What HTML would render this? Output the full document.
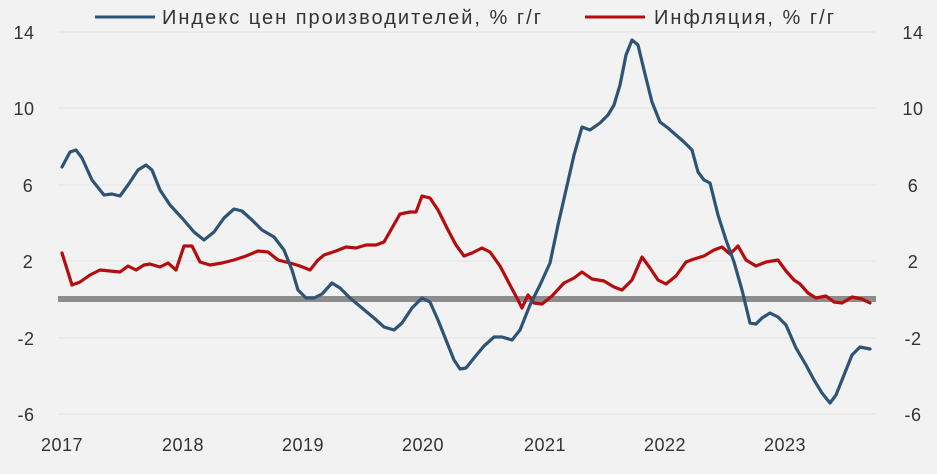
<!DOCTYPE html>
<html><head><meta charset="utf-8"><style>
body{margin:0;background:#f2f2f2;}
svg{display:block;font-family:"Liberation Sans",sans-serif;}
</style></head><body>
<svg width="937" height="474" viewBox="0 0 937 474">
<rect width="937" height="474" fill="#f2f2f2"/>
<g stroke="#e2e2e2" stroke-width="1">
<line x1="58" x2="876" y1="32" y2="32"/><line x1="58" x2="876" y1="108" y2="108"/>
<line x1="58" x2="876" y1="185" y2="185"/><line x1="58" x2="876" y1="261" y2="261"/>
<line x1="58" x2="876" y1="338" y2="338"/><line x1="58" x2="876" y1="414" y2="414"/>
</g>
<line x1="58" x2="876" y1="299" y2="299" stroke="#8c8c8c" stroke-width="6"/>
<g font-size="18" fill="#333" text-anchor="middle" letter-spacing="0.5">
<text x="24" y="39">14</text><text x="24" y="115">10</text><text x="28" y="192">6</text><text x="28" y="268">2</text><text x="26" y="345">-2</text><text x="26" y="421">-6</text>
<text x="913" y="39">14</text><text x="913" y="115">10</text><text x="913" y="192">6</text><text x="913" y="268">2</text><text x="913" y="345">-2</text><text x="913" y="421">-6</text>
<text x="62" y="451">2017</text><text x="183" y="451">2018</text><text x="303" y="451">2019</text><text x="423" y="451">2020</text><text x="545" y="451">2021</text><text x="665" y="451">2022</text><text x="785" y="451">2023</text>
</g>
<g font-size="20" fill="#333" letter-spacing="2">
<line x1="95" x2="155" y1="17" y2="17" stroke="#2e5475" stroke-width="3"/>
<text x="162" y="24">Индекс цен производителей, % г/г</text>
<line x1="585" x2="645" y1="17" y2="17" stroke="#b50d0d" stroke-width="3"/>
<text x="654" y="24">Инфляция, % г/г</text>
</g>
<polyline fill="none" stroke="#b50d0d" stroke-width="3.2" stroke-linejoin="round" stroke-linecap="round" points="62,253 72,285 80,282 90,275 100,270 110,271 120,272 128,266 136,270 144,265 150,264 160,267 168,263 176,270 184,246 192,246 200,262 210,265 222,263 234,260 246,256 258,251 268,252 278,260 290,263 300,266 310,270 318,260 324,255 336,251 346,247 356,248 366,245 376,245 384,242 392,228 400,214 410,212 416,212 422,196 430,198 438,210 448,230 456,245 464,256 472,253 482,248 490,252 500,266 510,285 518,300 522,308 528,295 534,303 542,304 552,296 564,283 574,278 582,272 592,279 604,281 614,287 622,290 632,280 642,257 650,268 658,280 666,284 676,276 686,262 694,259 704,256 714,250 722,247 730,254 738,246 746,260 756,266 766,262 778,260 786,271 794,280 800,284 808,293 816,298 826,296 834,302 842,303 852,297 862,299 870,303"/>
<polyline fill="none" stroke="#2e5475" stroke-width="3.2" stroke-linejoin="round" stroke-linecap="round" points="62,167 70,152 76,150 82,158 92,180 104,195 112,194 120,196 128,185 138,170 146,165 152,170 160,190 170,205 182,218 194,232 204,240 214,232 224,218 234,209 242,211 252,220 262,230 274,237 284,250 292,270 298,290 306,298 314,298 322,294 332,283 340,288 350,298 362,308 374,318 384,327 394,330 402,323 412,308 422,298 430,302 438,320 446,340 454,360 460,369 466,368 474,358 484,346 494,337 502,337 512,340 520,330 530,305 540,285 550,263 558,225 566,190 574,155 582,127 590,130 600,123 608,115 614,105 620,85 626,55 632,40 638,45 644,70 652,102 660,122 668,128 676,135 684,142 692,150 698,172 704,180 710,183 718,215 726,240 734,262 742,290 750,323 756,324 762,318 770,313 778,317 786,325 796,348 806,365 814,380 822,393 830,403 836,395 844,375 852,355 860,347 870,349"/>
</svg>
</body></html>
